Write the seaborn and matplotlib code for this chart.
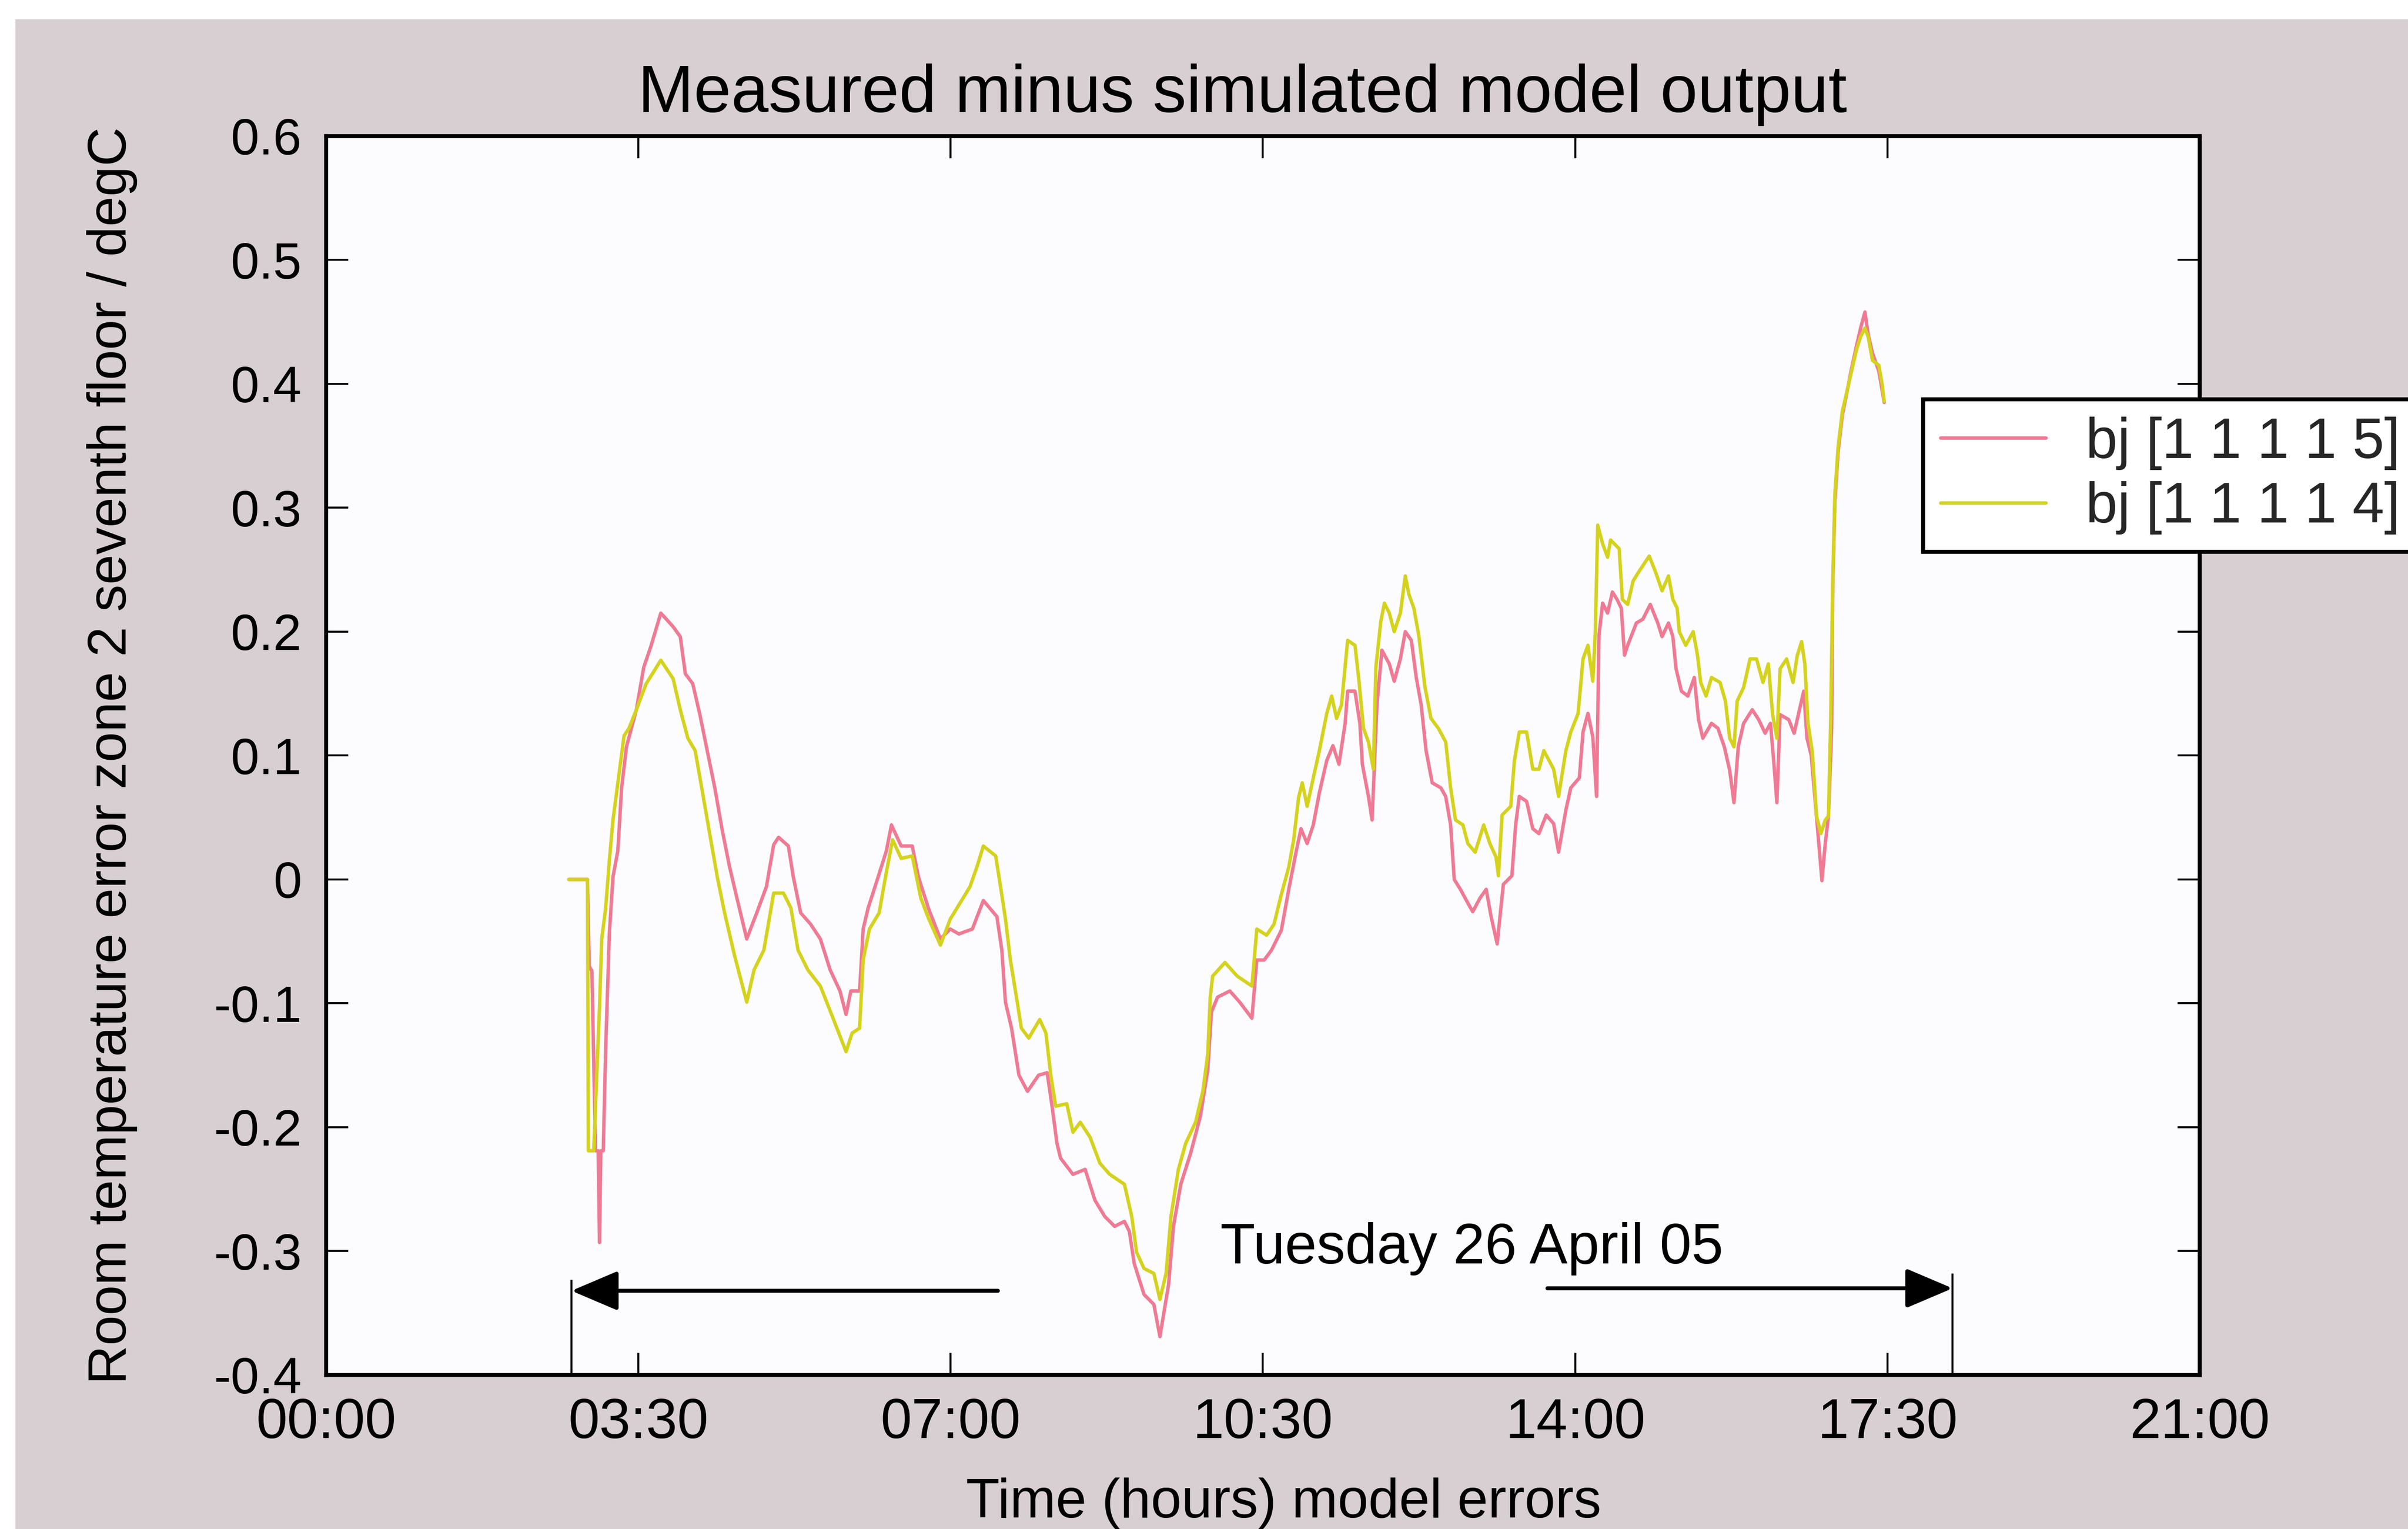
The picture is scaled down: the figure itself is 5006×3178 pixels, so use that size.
import numpy as np
import pandas as pd
import matplotlib
matplotlib.use("Agg")
import matplotlib.pyplot as plt
from matplotlib.patches import Rectangle
import seaborn as sns

# ---------------- data ----------------
label_5 = "bj [1 1 1 1 5]"
label_4 = "bj [1 1 1 1 4]"

hours_4 = [2.72, 2.93, 2.94, 3.00, 3.065, 3.09, 3.134, 3.175, 3.216, 3.285, 3.34, 3.395,
           3.478, 3.588, 3.752, 3.89, 3.97, 4.055, 4.137, 4.22, 4.302, 4.385, 4.467, 4.577,
           4.715, 4.797, 4.907, 5.017, 5.127, 5.21, 5.29, 5.40, 5.54, 5.677, 5.828, 5.896,
           5.98, 6.02, 6.09, 6.199, 6.28, 6.35, 6.446, 6.57, 6.666, 6.75, 6.886, 6.996,
           7.106, 7.216, 7.299, 7.367, 7.505, 7.56, 7.615, 7.67, 7.738, 7.793, 7.876, 7.999,
           8.068, 8.123, 8.178, 8.302, 8.371, 8.453, 8.563, 8.673, 8.783, 8.866, 8.948, 9.03,
           9.085, 9.168, 9.278, 9.346, 9.415, 9.47, 9.553, 9.635, 9.745, 9.827, 9.882, 9.91,
           9.937, 10.075, 10.212, 10.377, 10.432, 10.542, 10.625, 10.707, 10.79, 10.845, 10.9,
           10.941, 10.996, 11.065, 11.133, 11.216, 11.271, 11.326, 11.381, 11.45, 11.532,
           11.573, 11.628, 11.683, 11.738, 11.766, 11.821, 11.862, 11.917, 11.972, 12.041,
           12.096, 12.137, 12.192, 12.247, 12.315, 12.384, 12.467, 12.549, 12.604, 12.659,
           12.742, 12.797, 12.879, 12.975, 13.044, 13.113, 13.14, 13.181, 13.278, 13.319,
           13.374, 13.456, 13.525, 13.594, 13.649, 13.759, 13.814, 13.896, 13.951, 14.033,
           14.088, 14.143, 14.198, 14.226, 14.253, 14.308, 14.363, 14.397, 14.493, 14.529,
           14.589, 14.65, 14.71, 14.83, 14.902, 14.974, 15.046, 15.095, 15.143, 15.167,
           15.239, 15.323, 15.371, 15.407, 15.467, 15.528, 15.624, 15.684, 15.732, 15.78,
           15.816, 15.888, 15.96, 16.033, 16.105, 16.165, 16.213, 16.261, 16.297, 16.37,
           16.442, 16.49, 16.538, 16.574, 16.61, 16.658, 16.706, 16.754, 16.803, 16.839,
           16.863, 16.887, 16.911, 16.947, 16.995, 17.043, 17.091, 17.151, 17.199, 17.248,
           17.284, 17.332, 17.404, 17.44, 17.464]
error_4 = [0.0, 0.0, -0.219, -0.219, -0.103, -0.048, -0.023, 0.015, 0.048, 0.086, 0.116, 0.122,
           0.137, 0.158, 0.177, 0.162, 0.137, 0.114, 0.104, 0.070, 0.036, 0.002, -0.027, -0.061,
           -0.099, -0.073, -0.057, -0.011, -0.011, -0.023, -0.057, -0.073, -0.086, -0.111, -0.139, -0.124,
           -0.120, -0.065, -0.040, -0.027, 0.006, 0.032, 0.017, 0.019, -0.015, -0.031, -0.053, -0.032,
           -0.019, -0.006, 0.011, 0.027, 0.019, -0.006, -0.032, -0.065, -0.095, -0.120, -0.128, -0.113,
           -0.124, -0.158, -0.183, -0.181, -0.204, -0.196, -0.208, -0.229, -0.238, -0.242, -0.246, -0.272,
           -0.301, -0.314, -0.318, -0.339, -0.318, -0.272, -0.234, -0.213, -0.196, -0.171, -0.141, -0.095,
           -0.078, -0.067, -0.078, -0.086, -0.040, -0.045, -0.036, -0.012, 0.010, 0.032, 0.066,
           0.078, 0.059, 0.082, 0.104, 0.134, 0.148, 0.130, 0.141, 0.193, 0.189,
           0.163, 0.122, 0.111, 0.089, 0.171, 0.208, 0.223, 0.215, 0.200, 0.215,
           0.245, 0.230, 0.219, 0.197, 0.156, 0.130, 0.122, 0.111, 0.074, 0.048,
           0.044, 0.029, 0.022, 0.044, 0.029, 0.018, 0.003, 0.052, 0.059, 0.096,
           0.119, 0.119, 0.089, 0.089, 0.104, 0.089, 0.067, 0.104, 0.119, 0.134,
           0.178, 0.189, 0.160, 0.200, 0.286, 0.271, 0.260, 0.274, 0.267, 0.226,
           0.222, 0.241, 0.248, 0.261, 0.248, 0.233, 0.245, 0.226, 0.219, 0.200,
           0.189, 0.200, 0.181, 0.159, 0.148, 0.163, 0.159, 0.144, 0.114, 0.107,
           0.144, 0.155, 0.178, 0.178, 0.159, 0.174, 0.133, 0.114, 0.170, 0.178,
           0.159, 0.181, 0.192, 0.174, 0.126, 0.103, 0.051, 0.037, 0.048, 0.051,
           0.126, 0.241, 0.311, 0.349, 0.378, 0.393, 0.408, 0.427, 0.438, 0.445,
           0.438, 0.419, 0.415, 0.400, 0.386]

hours_5 = [2.72, 2.93, 2.95, 2.98, 3.02, 3.05, 3.065, 3.08, 3.107, 3.134, 3.175, 3.216,
           3.27, 3.313, 3.367, 3.478, 3.56, 3.64, 3.752, 3.89, 3.97, 4.027, 4.11, 4.19,
           4.275, 4.357, 4.44, 4.52, 4.605, 4.715, 4.827, 4.935, 5.017, 5.072, 5.182, 5.237,
           5.32, 5.43, 5.54, 5.65, 5.76, 5.828, 5.882, 5.98, 6.02, 6.076, 6.17, 6.28,
           6.337, 6.446, 6.57, 6.64, 6.75, 6.886, 6.996, 7.093, 7.244, 7.367, 7.519, 7.574,
           7.615, 7.683, 7.766, 7.862, 7.986, 8.082, 8.137, 8.192, 8.233, 8.371, 8.508, 8.618,
           8.728, 8.838, 8.948, 9.003, 9.058, 9.168, 9.278, 9.346, 9.443, 9.498, 9.58, 9.69,
           9.80, 9.882, 9.924, 9.992, 10.13, 10.24, 10.377, 10.432, 10.515, 10.597, 10.707,
           10.79, 10.872, 10.927, 10.996, 11.065, 11.133, 11.216, 11.285, 11.353, 11.422,
           11.45, 11.532, 11.587, 11.615, 11.683, 11.724, 11.779, 11.834, 11.917, 11.972,
           12.041, 12.096, 12.164, 12.219, 12.274, 12.329, 12.398, 12.494, 12.549, 12.604,
           12.645, 12.714, 12.797, 12.852, 12.934, 13.003, 13.058, 13.126, 13.195, 13.291,
           13.333, 13.374, 13.456, 13.525, 13.594, 13.676, 13.759, 13.814, 13.896, 13.951,
           14.047, 14.088, 14.143, 14.198, 14.24, 14.267, 14.308, 14.363, 14.418, 14.469,
           14.517, 14.553, 14.589, 14.686, 14.758, 14.842, 14.926, 14.974, 15.046, 15.095,
           15.131, 15.191, 15.263, 15.335, 15.383, 15.431, 15.528, 15.6, 15.672, 15.732,
           15.78, 15.828, 15.888, 15.985, 16.057, 16.129, 16.189, 16.225, 16.261, 16.297,
           16.394, 16.454, 16.514, 16.562, 16.598, 16.646, 16.682, 16.718, 16.766, 16.803,
           16.839, 16.875, 16.887, 16.911, 16.947, 16.995, 17.043, 17.091, 17.151, 17.199,
           17.248, 17.284, 17.332, 17.404, 17.44, 17.464]
error_5 = [0.0, 0.0, -0.070, -0.074, -0.219, -0.219, -0.293, -0.219, -0.219, -0.137, -0.044, 0.002,
           0.023, 0.074, 0.107, 0.137, 0.171, 0.188, 0.215, 0.204, 0.196, 0.166, 0.158, 0.133,
           0.103, 0.074, 0.040, 0.011, -0.015, -0.048, -0.027, -0.006, 0.028, 0.034, 0.027, 0.002,
           -0.027, -0.036, -0.048, -0.073, -0.090, -0.109, -0.090, -0.090, -0.040, -0.023, -0.002, 0.023,
           0.044, 0.027, 0.027, 0.002, -0.023, -0.048, -0.040, -0.044, -0.040, -0.017, -0.030, -0.057,
           -0.099, -0.120, -0.158, -0.171, -0.158, -0.156, -0.183, -0.213, -0.225, -0.238, -0.234, -0.259,
           -0.272, -0.280, -0.276, -0.284, -0.310, -0.335, -0.343, -0.369, -0.327, -0.280, -0.246, -0.221,
           -0.191, -0.154, -0.107, -0.095, -0.090, -0.099, -0.112, -0.065, -0.065, -0.057, -0.041,
           -0.008, 0.022, 0.041, 0.029, 0.044, 0.070, 0.096, 0.108, 0.093, 0.126,
           0.152, 0.152, 0.126, 0.093, 0.067, 0.048, 0.141, 0.185, 0.174, 0.160,
           0.178, 0.200, 0.193, 0.163, 0.141, 0.104, 0.078, 0.074, 0.067, 0.044,
           0.000, -0.008, -0.019, -0.026, -0.015, -0.008, -0.030, -0.052, -0.004, 0.003,
           0.044, 0.067, 0.063, 0.041, 0.037, 0.052, 0.045, 0.022, 0.056, 0.074,
           0.082, 0.119, 0.134, 0.115, 0.067, 0.197, 0.223, 0.215, 0.232, 0.226,
           0.219, 0.181, 0.189, 0.207, 0.210, 0.222, 0.207, 0.196, 0.207, 0.196,
           0.170, 0.152, 0.148, 0.163, 0.129, 0.114, 0.126, 0.122, 0.107, 0.088,
           0.062, 0.107, 0.126, 0.137, 0.129, 0.118, 0.126, 0.096, 0.062, 0.133,
           0.129, 0.118, 0.137, 0.152, 0.114, 0.100, 0.070, 0.040, -0.001, 0.029,
           0.051, 0.122, 0.235, 0.305, 0.345, 0.375, 0.392, 0.410, 0.430, 0.445,
           0.458, 0.440, 0.425, 0.410, 0.395, 0.385]

x_tick_hours = [0, 3.5, 7, 10.5, 14, 17.5, 21]
x_tick_labels = ["00:00", "03:30", "07:00", "10:30", "14:00", "17:30", "21:00"]
y_tick_values = [0.6, 0.5, 0.4, 0.3, 0.2, 0.1, 0.0, -0.1, -0.2, -0.3, -0.4]
y_tick_labels = ["0.6", "0.5", "0.4", "0.3", "0.2", "0.1", "0", "-0.1", "-0.2", "-0.3", "-0.4"]

title_text = "Measured minus simulated model output"
x_label = "Time (hours) model errors"
y_label = "Room temperature error zone 2 seventh floor / degC"
day_text = "Tuesday 26 April 05"
day_start_hour = 2.75
day_end_hour = 18.23

# ---------------- style ----------------
sns.set_theme(style="white")
plt.rcParams["font.family"] = ["Liberation Sans", "DejaVu Sans"]

PINK = "#f07a93"
YELLOW = "#d5d21e"

df = pd.concat([
    pd.DataFrame({"hour": hours_5, "err": error_5, "model": label_5}),
    pd.DataFrame({"hour": hours_4, "err": error_4, "model": label_4}),
], ignore_index=True)

fig = plt.figure(figsize=(5006 / 300, 3178 / 300), dpi=300)
fig.patch.set_facecolor("#d8cfd2")
fig.patches.append(Rectangle((0, 1 - 40 / 3178), 1, 40 / 3178, transform=fig.transFigure,
                             facecolor="white", edgecolor="none", zorder=0))
fig.patches.append(Rectangle((0, 0), 32 / 5006, 1, transform=fig.transFigure,
                             facecolor="white", edgecolor="none", zorder=0))

ax = fig.add_axes([0.1354, 0.1007, 0.7781, 0.8103])
ax.set_facecolor("#fcfcfe")

sns.lineplot(data=df, x="hour", y="err", hue="model", hue_order=[label_5, label_4],
             palette={label_5: PINK, label_4: YELLOW}, estimator=None, sort=False,
             linewidth=1.7, ax=ax, legend=False)

ax.set_xlim(0, 21)
ax.set_ylim(-0.4, 0.6)
ax.set_xticks(x_tick_hours)
ax.set_xticklabels(x_tick_labels, fontsize=28)
ax.set_yticks(y_tick_values)
ax.set_yticklabels(y_tick_labels, fontsize=25.5)
ax.tick_params(axis="both", direction="in", length=11, width=1.0, color="black",
               top=True, right=True, bottom=True, left=True, labelcolor="black")
ax.tick_params(axis="x", pad=11)
ax.tick_params(axis="y", pad=12)

for s in ax.spines.values():
    s.set_visible(True)
    s.set_color("black")
    s.set_linewidth(2.0)

ax.set_title(title_text, fontsize=33.5, pad=12, color="black", x=0.489)
ax.set_xlabel(x_label, fontsize=27.5, labelpad=14, color="black", x=0.511)
ax.set_ylabel(y_label, fontsize=27, labelpad=38, color="black")

# Day-span annotation
ax.vlines([day_start_hour], -0.4, -0.323, color="black", linewidth=1.0)
ax.vlines([day_end_hour], -0.4, -0.318, color="black", linewidth=1.0, clip_on=False)
arrow_style = "-|>,head_length=0.4,head_width=0.17"
ax.annotate("", xy=(day_start_hour, -0.332), xytext=(7.53, -0.332),
            arrowprops=dict(arrowstyle=arrow_style, color="black", lw=2.0,
                            mutation_scale=50, shrinkA=0, shrinkB=0))
ax.annotate("", xy=(day_end_hour, -0.330), xytext=(13.69, -0.330),
            arrowprops=dict(arrowstyle=arrow_style, color="black", lw=2.0,
                            mutation_scale=50, shrinkA=0, shrinkB=0))
ax.text(12.84, -0.298, day_text, ha="center", va="center", fontsize=28.5, color="black")

# Legend
handles = ax.lines[:2]
leg = ax.legend(handles, [label_5, label_4], loc="upper left",
                bbox_to_anchor=(3998 / 5006, 1 - 830 / 3178), bbox_transform=fig.transFigure,
                frameon=True, fancybox=False, framealpha=1, facecolor="white",
                edgecolor="black", borderpad=0.3, handlelength=1.85, handletextpad=0.7,
                labelspacing=0.2, borderaxespad=0, fontsize=28.5)
leg.get_frame().set_linewidth(2.0)

fig.savefig("out.png", dpi=300, facecolor=fig.get_facecolor())
